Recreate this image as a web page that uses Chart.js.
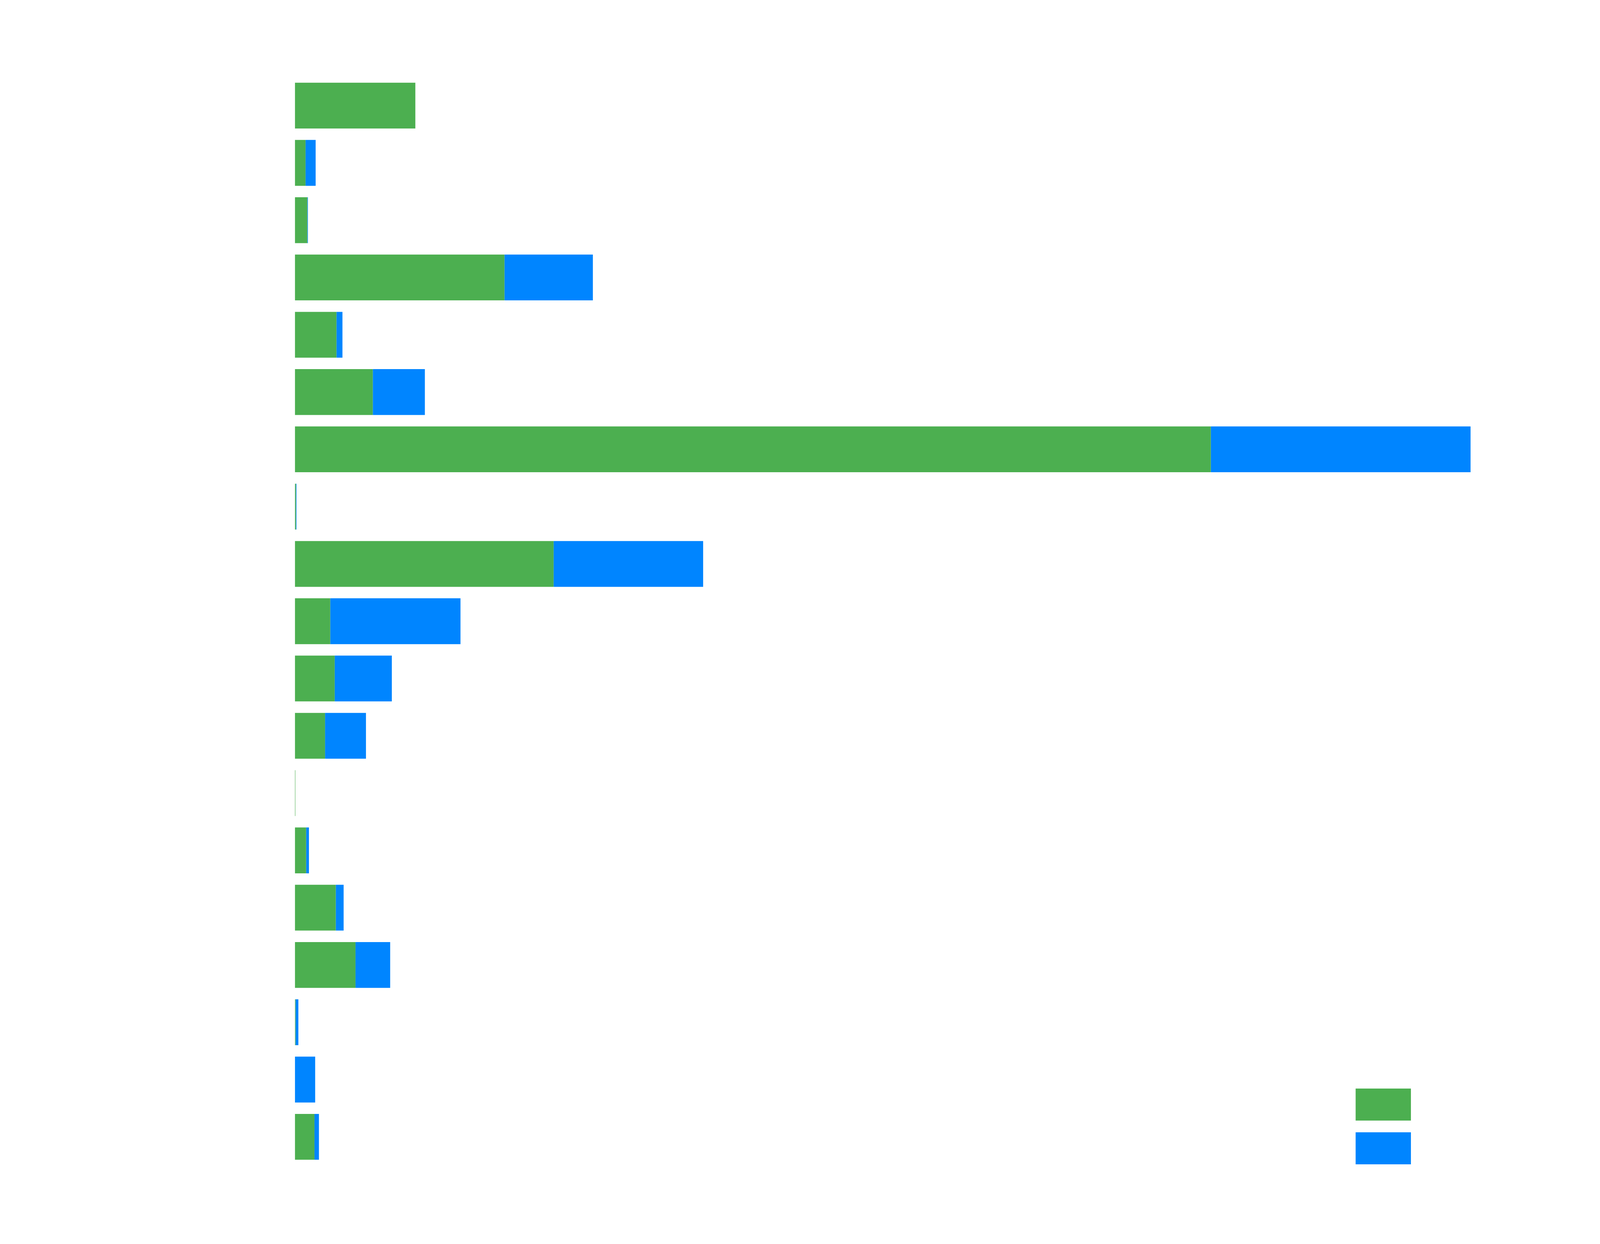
<!DOCTYPE html>
<html>
<head>
<meta charset="utf-8">
<title>Stacked bars</title>
<script src="https://cdn.jsdelivr.net/npm/chart.js@4/dist/chart.umd.min.js"></script>
<style>
    html, body { margin: 0; padding: 0; background: #fff; overflow: hidden; }
    #wrap { width: 100vw; height: 100vh; }
</style>
</head>
<body>
<div id="wrap"><canvas id="chart"></canvas></div>
<script>
// Data (no axis ticks shown, values relative to the longest bar)
const categories = ['Row 1', 'Row 2', 'Row 3', 'Row 4', 'Row 5', 'Row 6', 'Row 7', 'Row 8', 'Row 9', 'Row 10',
    'Row 11', 'Row 12', 'Row 13', 'Row 14', 'Row 15', 'Row 16', 'Row 17', 'Row 18', 'Row 19'];
const seriesNames = ['Series A', 'Series B'];
const greenValues = [102.4, 9.0, 10.5, 178.2, 35.3, 66.2, 779.0, 0.8, 220.0, 30.0,
    33.8, 25.6, 0.35, 9.5, 34.7, 51.5, 0.5, 0, 16.6];
const blueValues = [0, 8.6, 0.5, 75.2, 5.1, 44.3, 221.0, 0.5, 127.2, 110.8,
    48.6, 34.8, 0, 2.4, 6.7, 29.5, 2.4, 17.2, 3.8];

const GREEN = '#4caf50';
const BLUE = '#0085ff';

const totals = greenValues.map((v, i) => v + blueValues[i]);
const xMax = Math.max(...totals);

// layout was measured on a 5788x3185 frame, scale to whatever the viewport is
const W = window.innerWidth, H = window.innerHeight;
const fx = v => v * W / 5788;
const fy = v => v * H / 3185;
const legendPad = fy(30);

// Legend sits inside the plot, bottom right, boxes only
const legendPlacer = {
    id: 'legendPlacer',
    afterLayout(chart) {
        const lg = chart.legend;
        const area = chart.chartArea;
        if (!lg || !area) return;
        lg.left = area.right - fx(416) - legendPad;
        lg.top = area.bottom - fy(197) - legendPad;
        lg.right = lg.left + lg.width;
        lg.bottom = lg.top + lg.height;
    }
};

new Chart(document.getElementById('chart'), {
    type: 'bar',
    data: {
        labels: categories,
        datasets: [
            { label: seriesNames[0], data: greenValues, backgroundColor: GREEN, borderWidth: 0 },
            { label: seriesNames[1], data: blueValues, backgroundColor: BLUE, borderWidth: 0 }
        ]
    },
    options: {
        indexAxis: 'y',
        responsive: true,
        maintainAspectRatio: false,
        animation: false,
        datasets: { bar: { categoryPercentage: 0.8, barPercentage: 1.0 } },
        layout: { padding: { left: fx(1067), right: fx(468), top: fy(197), bottom: fy(201) } },
        scales: {
            x: { stacked: true, min: 0, max: xMax, display: false },
            y: { stacked: true, display: false }
        },
        plugins: {
            tooltip: { enabled: false },
            legend: {
                position: 'chartArea',
                align: 'start',
                labels: {
                    boxWidth: fx(200),
                    boxHeight: fy(82),
                    padding: legendPad,
                    color: 'rgba(0,0,0,0)',
                    font: { family: 'Roboto', size: Math.round(fy(40)) }
                }
            }
        }
    },
    plugins: [legendPlacer]
});
</script>
</body>
</html>
